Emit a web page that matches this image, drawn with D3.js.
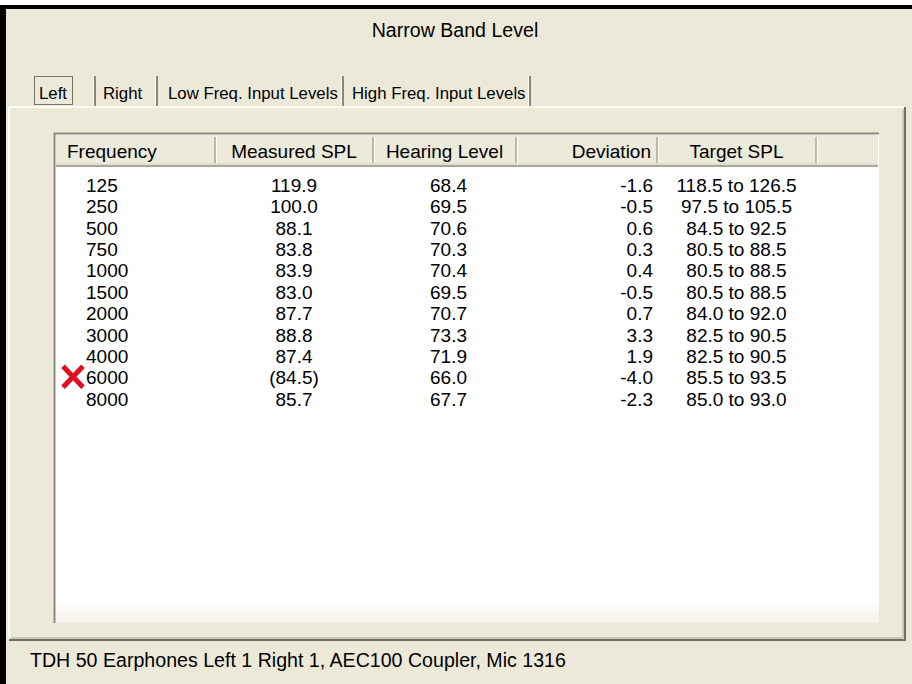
<!DOCTYPE html>
<html><head><meta charset="utf-8">
<script src="https://cdn.jsdelivr.net/npm/d3@7"></script>
<style>
html,body{margin:0;padding:0;background:#fff;}
svg{display:block;}
text{font-family:"Liberation Sans",Arial,sans-serif;fill:#000;}
</style></head>
<body>
<script>
// ---- data ----
const title = "Narrow Band Level";
const tabs = ["Left", "Right", "Low Freq. Input Levels", "High Freq. Input Levels"];
const columns = ["Frequency", "Measured SPL", "Hearing Level", "Deviation", "Target SPL"];
const frequencies = [125, 250, 500, 750, 1000, 1500, 2000, 3000, 4000, 6000, 8000];
const measuredSPL = [119.9, 100.0, 88.1, 83.8, 83.9, 83.0, 87.7, 88.8, 87.4, 84.5, 85.7];
const hearingLevel = [68.4, 69.5, 70.6, 70.3, 70.4, 69.5, 70.7, 73.3, 71.9, 66.0, 67.7];
const deviation = [-1.6, -0.5, 0.6, 0.3, 0.4, -0.5, 0.7, 3.3, 1.9, -4.0, -2.3];
const targetLow = [118.5, 97.5, 84.5, 80.5, 80.5, 80.5, 84.0, 82.5, 82.5, 85.5, 85.0];
const targetHigh = [126.5, 105.5, 92.5, 88.5, 88.5, 88.5, 92.0, 90.5, 90.5, 93.5, 93.0];
const flagged = [6000];
const footer = "TDH 50 Earphones Left 1 Right 1, AEC100 Coupler, Mic 1316";

// ---- layout ----
const W = 912, H = 684;
const BG = "#ece9d8";
const svg = d3.select("body").append("svg").attr("width", W).attr("height", H);
svg.append("rect").attr("width", W).attr("height", H).attr("fill", BG);
// black frame (top & left)
svg.append("rect").attr("x", 0).attr("y", 0).attr("width", W).attr("height", 6).attr("fill", "#fff");
svg.append("rect").attr("x", 0).attr("y", 5).attr("width", W).attr("height", 4).attr("fill", "#000");
svg.append("rect").attr("x", 0).attr("y", 5).attr("width", 6).attr("height", H).attr("fill", "#000");

const fs = 19, fsBig = 19.6;
svg.append("text").attr("x", 455).attr("y", 37).attr("text-anchor", "middle")
  .attr("font-size", fsBig).text(title);

// tab panel
const panel = {x0: 9, y0: 107, x1: 905, y1: 640};
svg.append("line").attr("x1", panel.x0).attr("x2", panel.x1).attr("y1", panel.y0).attr("y2", panel.y0).attr("stroke", "#fcfcf8").attr("stroke-width", 2);
svg.append("line").attr("x1", panel.x0).attr("x2", panel.x0).attr("y1", panel.y0).attr("y2", panel.y1).attr("stroke", "#fcfcf8").attr("stroke-width", 2);
svg.append("line").attr("x1", panel.x1).attr("x2", panel.x1).attr("y1", panel.y0).attr("y2", panel.y1 + 1).attr("stroke", "#716f64").attr("stroke-width", 2);
svg.append("line").attr("x1", panel.x0).attr("x2", panel.x1 + 1).attr("y1", panel.y1).attr("y2", panel.y1).attr("stroke", "#716f64").attr("stroke-width", 2);
svg.append("line").attr("x1", panel.x0 + 2).attr("x2", panel.x1 - 2).attr("y1", panel.y1 - 2).attr("y2", panel.y1 - 2).attr("stroke", "#aca899").attr("stroke-width", 1);
svg.append("line").attr("x1", panel.x1 - 2).attr("x2", panel.x1 - 2).attr("y1", panel.y0 + 2).attr("y2", panel.y1 - 2).attr("stroke", "#aca899").attr("stroke-width", 1);

// tabs
const tabEdges = [33, 95, 157, 343, 530];
const tabPad = [6, 8, 11, 9];
const tabScale = d3.scaleOrdinal().domain(tabs).range(tabs.map((t, i) => [tabEdges[i], tabEdges[i + 1]]));
const tg = svg.append("g");
tabs.forEach((t, i) => {
  const [a, b] = tabScale(t);
  tg.append("text").attr("x", a + tabPad[i]).attr("y", 99).attr("font-size", 16.8).text(t);
  tg.append("line").attr("x1", b).attr("x2", b).attr("y1", 76).attr("y2", 106).attr("stroke", "#8a877a").attr("stroke-width", 2);
  tg.append("line").attr("x1", b - 1.5).attr("x2", b - 1.5).attr("y1", 76).attr("y2", 106).attr("stroke", "#fff").attr("stroke-width", 1);
});
// focus rect on Left tab
tg.append("rect").attr("x", 34.5).attr("y", 76.5).attr("width", 38).attr("height", 28)
  .attr("fill", "none").attr("stroke", "#000").attr("stroke-dasharray", "1,1");

// list view
const list = {x0: 54, y0: 133, x1: 879, y1: 623};
svg.append("rect").attr("x", list.x0).attr("y", list.y0).attr("width", list.x1 - list.x0).attr("height", list.y1 - list.y0).attr("fill", "#fff");
const fade = svg.append("defs").append("linearGradient").attr("id", "fade").attr("x1", 0).attr("x2", 0).attr("y1", 0).attr("y2", 1);
fade.append("stop").attr("offset", 0).attr("stop-color", "#fff");
fade.append("stop").attr("offset", 1).attr("stop-color", "#f3f1e8");
svg.append("rect").attr("x", list.x0).attr("y", list.y1 - 20).attr("width", list.x1 - list.x0).attr("height", 20).attr("fill", "url(#fade)");
svg.append("path").attr("d", `M${list.x0 + 0.5},${list.y1}V${list.y0 + 0.5}H${list.x1}`).attr("fill", "none").attr("stroke", "#8c8a80").attr("stroke-width", 2);

// header
const colEdges = [56, 215, 373, 516, 657, 816, 878];
const colScale = d3.scaleOrdinal().domain(columns.concat([""])).range(colEdges.slice(0, -1).map((e, i) => [e, colEdges[i + 1]]));
const hdrY0 = 135, hdrY1 = 167;
svg.append("rect").attr("x", 56).attr("y", hdrY0).attr("width", 822).attr("height", hdrY1 - hdrY0).attr("fill", "#ebeadb");
svg.append("line").attr("x1", 56).attr("x2", 878).attr("y1", hdrY1 - 1).attr("y2", hdrY1 - 1).attr("stroke", "#a9a797").attr("stroke-width", 2);
svg.append("line").attr("x1", 56).attr("x2", 878).attr("y1", hdrY1 - 3).attr("y2", hdrY1 - 3).attr("stroke", "#d6d2c2").attr("stroke-width", 1);
const hdr = svg.append("g");
columns.forEach((c, i) => {
  const [a, b] = colScale(c);
  hdr.append("line").attr("x1", b).attr("x2", b).attr("y1", hdrY0 + 2).attr("y2", hdrY1 - 4).attr("stroke", "#aca899").attr("stroke-width", 1.5);
  hdr.append("line").attr("x1", b + 1.5).attr("x2", b + 1.5).attr("y1", hdrY0 + 2).attr("y2", hdrY1 - 4).attr("stroke", "#fff").attr("stroke-width", 1);
});
const hdrAnchor = ["start", "middle", "middle", "end", "middle"];
columns.forEach((c, i) => {
  const [a, b] = colScale(c);
  const x = hdrAnchor[i] === "start" ? a + 11 : hdrAnchor[i] === "end" ? b - 6 : (a + b) / 2;
  hdr.append("text").attr("x", x).attr("y", 158).attr("text-anchor", hdrAnchor[i]).attr("font-size", fs).text(c);
});

// rows
const y = d3.scaleBand().domain(frequencies).range([174, 174 + 21.4 * frequencies.length]);
const rows = svg.append("g").selectAll("g").data(frequencies.map((f, i) => ({
  f, m: measuredSPL[i], h: hearingLevel[i], d: deviation[i], lo: targetLow[i], hi: targetHigh[i]
}))).join("g").attr("transform", d => `translate(0,${y(d.f) + y.bandwidth() / 2 + 7})`);

const cx = c => { const [a, b] = colScale(c); return (a + b) / 2; };
function cell(x, anchor, fn) {
  rows.append("text").attr("x", x).attr("text-anchor", anchor).attr("font-size", fs).text(fn);
}
cell(colScale("Frequency")[0] + 30, "start", d => d.f);
cell(cx("Measured SPL"), "middle", d => flagged.includes(d.f) ? `(${d.m.toFixed(1)})` : d.m.toFixed(1));
cell(cx("Hearing Level") + 4, "middle", d => d.h.toFixed(1));
cell(colScale("Deviation")[1] - 4, "end", d => d.d.toFixed(1));
cell(cx("Target SPL"), "middle", d => `${d.lo.toFixed(1)} to ${d.hi.toFixed(1)}`);

// red X for flagged rows
rows.filter(d => flagged.includes(d.f)).append("path")
  .attr("d", "M63,-18L83,3M83,-18L63,3").attr("stroke", "#e01020").attr("stroke-width", 5).attr("fill", "none");

// footer
svg.append("text").attr("x", 30).attr("y", 667).attr("font-size", fsBig).text(footer);
</script>
</body></html>
